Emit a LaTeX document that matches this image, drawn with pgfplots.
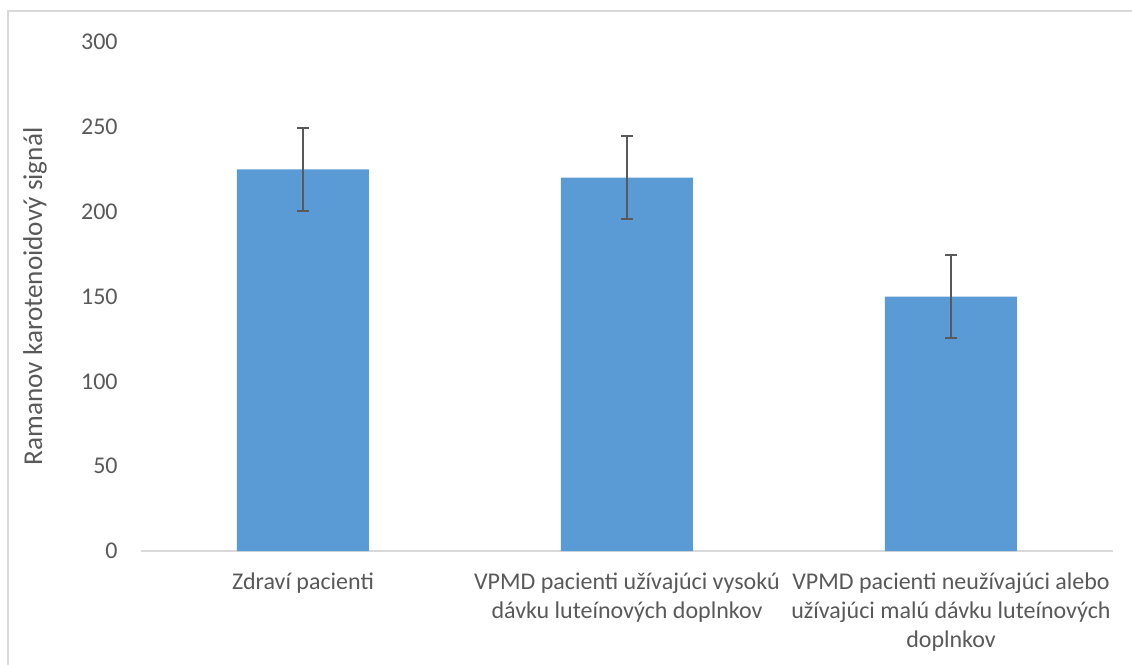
\documentclass[border=0pt]{standalone}
\usepackage{pgfplots}
\pgfplotsset{compat=1.18}
\usepackage{fontspec}
\setmainfont{Carlito}
\definecolor{barblue}{HTML}{5B9BD5}
\definecolor{txt}{HTML}{595959}
\definecolor{axc}{HTML}{D9D9D9}
\begin{document}
\begin{tikzpicture}
\useasboundingbox (-70.5pt,-57pt) rectangle (495.5pt,275.5pt);
\draw[axc, line width=1pt] (-66.5pt,-60pt) -- (-66.5pt,270pt) -- (500pt,270pt);
\begin{axis}[
  at={(0pt,0pt)}, anchor=south west, scale only axis,
  width=486pt, height=254.5pt,
  xmin=-0.5, xmax=2.5, ymin=0, ymax=300,
  ytick={0,50,...,300},
  xtick={0,1,2},
  xticklabels={{Zdraví pacienti},{VPMD pacienti užívajúci vysokú\\dávku luteínových doplnkov},{VPMD pacienti neužívajúci alebo\\užívajúci malú dávku luteínových\\doplnkov}},
  axis x line*=bottom, axis y line*=left,
  x axis line style={axc, line width=1pt, -},
  y axis line style={draw=none},
  major tick length=0pt,
  tick style={draw=none},
  /pgf/number format/assume math mode=true,
  ticklabel style={font=\fontsize{12}{14.5}\selectfont, text=txt},
  yticklabel style={anchor=east, inner sep=0pt, xshift=-11.5pt},
  xticklabel style={anchor=north, inner sep=0pt, yshift=-10.5pt, align=center},
  ylabel={Ramanov karotenoidový signál},
  every axis y label/.style={at={(axis description cs:-0.109,0.5)}, rotate=90, anchor=center, font=\fontsize{13.6}{15}\selectfont, text=txt},
  axis background/.style={fill=white},
  clip=false,
]
\addplot[ybar, bar width=66pt, fill=barblue, draw=none,
  error bars/.cd, y dir=both, y explicit,
  error bar style={txt, line width=1pt},
  error mark options={rotate=90, mark size=3pt, txt, line width=1pt}]
  coordinates {(0,225) +- (0,24.5) (1,220) +- (0,24.5) (2,150) +- (0,24.5)};
\end{axis}
\end{tikzpicture}
\end{document}
